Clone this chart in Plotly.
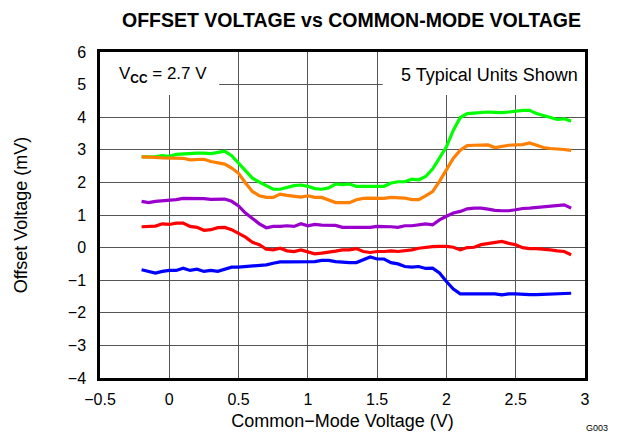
import plotly.graph_objects as go

x_vals = [round(-0.2 + 0.05 * i, 2) for i in range(63)]

green = [2.78, 2.78, 2.79, 2.82, 2.80, 2.86, 2.88, 2.89, 2.90, 2.90, 2.88, 2.92, 2.96, 2.82, 2.59,
         2.34, 2.13, 2.01, 1.90, 1.79, 1.79, 1.85, 1.90, 1.92, 1.88, 1.81, 1.79, 1.83, 1.95, 1.93,
         1.95, 1.88, 1.88, 1.88, 1.88, 1.88, 1.98, 2.02, 2.02, 2.10, 2.08, 2.18, 2.41, 2.74, 3.09,
         3.60, 3.99, 4.11, 4.13, 4.14, 4.16, 4.15, 4.14, 4.16, 4.19, 4.21, 4.21, 4.11, 4.05, 3.99,
         3.93, 3.95, 3.88]
orange = [2.78, 2.78, 2.77, 2.75, 2.74, 2.74, 2.74, 2.69, 2.71, 2.71, 2.64, 2.59, 2.56, 2.44, 2.28,
          1.98, 1.72, 1.59, 1.54, 1.54, 1.64, 1.60, 1.57, 1.55, 1.59, 1.54, 1.54, 1.47, 1.38, 1.38,
          1.38, 1.47, 1.51, 1.52, 1.52, 1.51, 1.54, 1.54, 1.52, 1.47, 1.47, 1.59, 1.72, 2.03, 2.39,
          2.74, 2.99, 3.13, 3.14, 3.14, 3.15, 3.07, 3.11, 3.14, 3.15, 3.16, 3.21, 3.14, 3.07, 3.04,
          3.03, 3.01, 2.98]
purple = [1.42, 1.38, 1.42, 1.44, 1.44, 1.47, 1.51, 1.51, 1.51, 1.50, 1.48, 1.48, 1.49, 1.42, 1.28,
          1.06, 0.90, 0.73, 0.61, 0.65, 0.65, 0.67, 0.65, 0.73, 0.67, 0.71, 0.69, 0.69, 0.68, 0.62,
          0.62, 0.62, 0.62, 0.62, 0.65, 0.65, 0.64, 0.62, 0.67, 0.67, 0.70, 0.73, 0.70, 0.85, 0.96,
          1.06, 1.11, 1.19, 1.21, 1.21, 1.18, 1.14, 1.13, 1.13, 1.16, 1.20, 1.21, 1.23, 1.26, 1.28,
          1.28, 1.31, 1.21]
red = [0.64, 0.64, 0.66, 0.73, 0.71, 0.75, 0.75, 0.65, 0.62, 0.53, 0.55, 0.61, 0.62, 0.55, 0.44,
       0.32, 0.16, 0.09, -0.05, -0.07, -0.02, -0.10, -0.12, -0.07, -0.13, -0.19, -0.17, -0.15, -0.11, -0.07,
       -0.07, -0.03, -0.12, -0.15, -0.12, -0.12, -0.10, -0.12, -0.10, -0.07, -0.02, 0.01, 0.03, 0.04, 0.04,
       0.01, -0.07, 0.00, 0.01, 0.09, 0.13, 0.16, 0.19, 0.13, 0.09, 0.00, -0.03, -0.03, -0.04, -0.07,
       -0.10, -0.12, -0.22]
blue = [-0.68, -0.74, -0.78, -0.73, -0.70, -0.70, -0.63, -0.70, -0.66, -0.73, -0.70, -0.73, -0.66, -0.60, -0.60,
        -0.58, -0.56, -0.56, -0.53, -0.48, -0.44, -0.44, -0.44, -0.44, -0.44, -0.43, -0.39, -0.39, -0.43, -0.45,
        -0.46, -0.46, -0.37, -0.29, -0.35, -0.35, -0.46, -0.50, -0.58, -0.60, -0.58, -0.64, -0.63, -0.78, -1.04,
        -1.27, -1.42, -1.42, -1.42, -1.42, -1.40, -1.42, -1.45, -1.42, -1.42, -1.44, -1.44, -1.44, -1.43, -1.42,
        -1.40, -1.40, -1.40]

series = [("Unit 1", green, "#00FF00"), ("Unit 2", orange, "#FF7F00"), ("Unit 3", purple, "#9900CC"),
          ("Unit 4", red, "#FF0000"), ("Unit 5", blue, "#0000FF")]

FONT = "Liberation Sans, Arial, sans-serif"

fig = go.Figure()
for name, ys, col in series:
    fig.add_trace(go.Scatter(x=x_vals, y=ys, mode="lines", name=name,
                             line=dict(color=col, width=3.2), showlegend=False))

# white legend boxes over grid
fig.add_shape(type="rect", xref="x", yref="y", x0=-0.5, x1=0.36, y0=4.68, y1=6,
              fillcolor="white", line=dict(width=0), layer="between")
fig.add_shape(type="rect", xref="x", yref="y", x0=1.54, x1=3.0, y0=4.68, y1=6,
              fillcolor="white", line=dict(width=0), layer="between")

fig.add_annotation(x=-0.38, y=5.3, xref="x", yref="y", xanchor="left", yanchor="middle",
                   text="V<sub><b>CC</b></sub> = 2.7 V", showarrow=False,
                   font=dict(family=FONT, size=17, color="black"))
fig.add_annotation(x=2.965, y=5.3, xref="x", yref="y", xanchor="right", yanchor="middle",
                   text="5 Typical Units Shown", showarrow=False,
                   font=dict(family=FONT, size=18, color="black"))

PL, PR, PT, PB = 100, 585, 52, 378


def px(xp):
    return (xp - PL) / (PR - PL)


def py(yp):
    return (PB - yp) / (PB - PT)


fig.add_annotation(x=px(351), y=py(20), xref="paper", yref="paper",
                   xanchor="center", yanchor="middle", showarrow=False,
                   text="<b>OFFSET VOLTAGE vs COMMON-MODE VOLTAGE</b>",
                   font=dict(family=FONT, size=19.5, color="black"))
fig.add_annotation(x=px(597), y=py(428), xref="paper", yref="paper",
                   xanchor="center", yanchor="middle", showarrow=False,
                   text="G003", font=dict(family=FONT, size=9, color="black"))

fig.update_layout(
    width=617, height=435,
    margin=dict(l=PL, r=617 - PR, t=PT, b=435 - PB, autoexpand=False),
    paper_bgcolor="white", plot_bgcolor="white",
    font=dict(family=FONT, size=16, color="black"),
    xaxis=dict(range=[-0.5, 3], dtick=0.5, tick0=-0.5, showgrid=True, gridcolor="#555", gridwidth=1,
               showline=True, linecolor="black", linewidth=2.5, mirror=True, zeroline=False,
               ticks="", ticklabelstandoff=5, automargin=False,
               title=dict(text="Common−Mode Voltage (V)", font=dict(size=18), standoff=8)),
    yaxis=dict(range=[-4, 6], dtick=1, showgrid=True, gridcolor="#555", gridwidth=1,
               showline=True, linecolor="black", linewidth=2.5, mirror=True, zeroline=False,
               ticks="", ticklabelstandoff=8, automargin=False,
               title=dict(text="Offset Voltage (mV)", font=dict(size=18), standoff=36)),
)

fig.write_html("out.html", config={"displayModeBar": False},
               post_script="document.body.style.margin='0';document.body.style.padding='0';")
